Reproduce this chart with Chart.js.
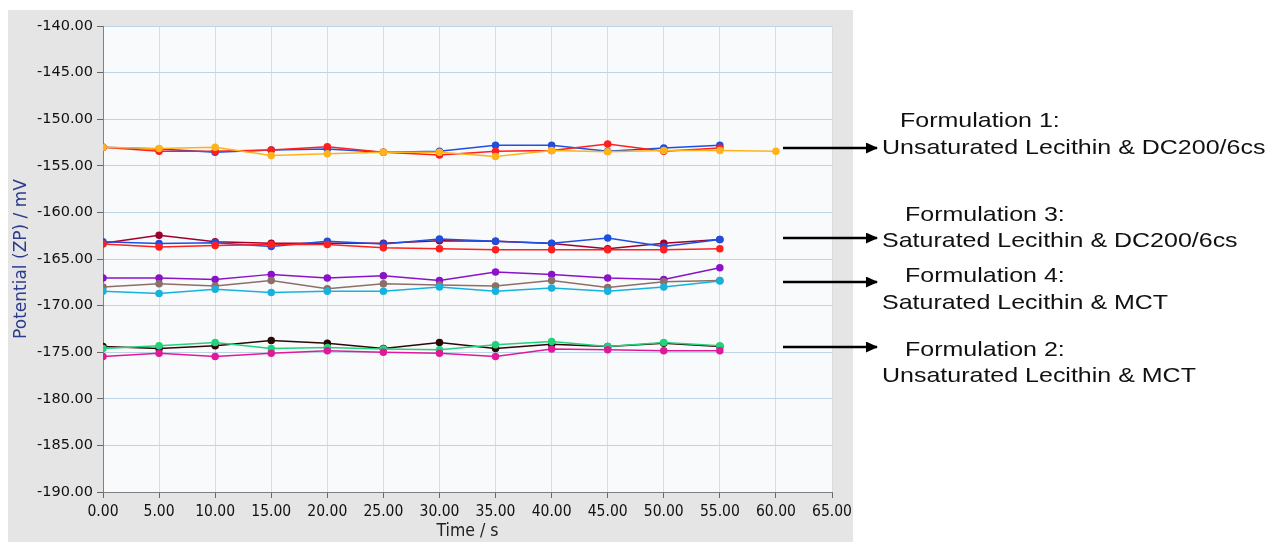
<!DOCTYPE html>
<html>
<head>
<meta charset="utf-8">
<script src="https://cdn.jsdelivr.net/npm/chart.js@4"></script>
<style>
  body { margin: 0; width: 1278px; height: 542px; background: #fff; position: relative; overflow: hidden; }
  #box { position: absolute; left: 8px; top: 10px; width: 845px; height: 532px; background: #e5e5e5; }
  #chart { position: absolute; left: 0; top: 0; }
  .note { position: absolute; font-family: "Liberation Sans", Arial, sans-serif; font-size: 21px; color: #111; white-space: nowrap; line-height: 1; transform: scaleX(1.19); transform-origin: left center; }
  #arrows { position: absolute; left: 0; top: 0; }
</style>
</head>
<body>
<div id="box"><canvas id="chart" width="880" height="532"></canvas></div>

<svg id="arrows" width="1278" height="542">
  <defs>
    <marker id="head" markerWidth="12" markerHeight="11" refX="11" refY="5.5" orient="auto" markerUnits="userSpaceOnUse">
      <path d="M0,0 L12,5.5 L0,11 z" fill="#000"/>
    </marker>
  </defs>
  <line x1="783" y1="148" x2="877" y2="148" stroke="#000" stroke-width="2.5" marker-end="url(#head)"/>
  <line x1="783" y1="238" x2="877" y2="238" stroke="#000" stroke-width="2.5" marker-end="url(#head)"/>
  <line x1="783" y1="282" x2="877" y2="282" stroke="#000" stroke-width="2.5" marker-end="url(#head)"/>
  <line x1="783" y1="347" x2="877" y2="347" stroke="#000" stroke-width="2.5" marker-end="url(#head)"/>
</svg>

<div class="note" style="left:900px; top:109px;">Formulation 1:</div>
<div class="note" style="left:882px; top:136px;">Unsaturated Lecithin &amp; DC200/6cs</div>
<div class="note" style="left:905px; top:203px;">Formulation 3:</div>
<div class="note" style="left:882px; top:229px;">Saturated Lecithin &amp; DC200/6cs</div>
<div class="note" style="left:905px; top:264px;">Formulation 4:</div>
<div class="note" style="left:882px; top:291px;">Saturated Lecithin &amp; MCT</div>
<div class="note" style="left:905px; top:338px;">Formulation 2:</div>
<div class="note" style="left:882px; top:364px;">Unsaturated Lecithin &amp; MCT</div>

<script>
// time axis, seconds
const time = [0, 5, 10, 15, 20, 25, 30, 35, 40, 45, 50, 55, 60];

// Formulation 1 (top group)
const f1Blue   = [-153.0, -153.2, -153.55, -153.3, -153.2, -153.55, -153.45, -152.8, -152.8, -153.45, -153.1, -152.8];
const f1Red    = [-153.0, -153.45, -153.45, -153.3, -152.95, -153.55, -153.85, -153.45, -153.35, -152.65, -153.45, -153.1];
const f1Orange = [-153.0, -153.15, -153.0, -153.9, -153.7, -153.55, -153.55, -154.0, -153.35, -153.5, -153.35, -153.35, -153.45];

// Formulation 3
const f3Blue    = [-163.15, -163.35, -163.25, -163.65, -163.1, -163.4, -162.85, -163.1, -163.3, -162.75, -163.65, -162.9];
const f3DarkRed = [-163.3, -162.45, -163.15, -163.3, -163.3, -163.3, -163.05, -163.1, -163.35, -163.9, -163.3, -162.9];
const f3Red     = [-163.4, -163.7, -163.55, -163.45, -163.45, -163.8, -163.9, -164.0, -164.0, -164.0, -164.0, -163.9];

// Formulation 4
const f4Purple = [-167.05, -167.05, -167.2, -166.65, -167.05, -166.8, -167.3, -166.4, -166.65, -167.05, -167.2, -165.95];
const f4Brown  = [-168.0, -167.65, -167.9, -167.3, -168.2, -167.65, -167.8, -167.9, -167.3, -168.05, -167.45, -167.3];
const f4Cyan   = [-168.45, -168.7, -168.25, -168.6, -168.45, -168.45, -168.0, -168.45, -168.1, -168.45, -168.0, -167.35];

// Formulation 2 (bottom group)
const f2Black   = [-174.4, -174.6, -174.3, -173.75, -174.05, -174.6, -173.95, -174.6, -174.15, -174.4, -174.05, -174.4];
const f2Green   = [-174.6, -174.3, -173.95, -174.6, -174.5, -174.65, -174.75, -174.2, -173.85, -174.4, -173.95, -174.3];
const f2Magenta = [-175.45, -175.1, -175.45, -175.1, -174.85, -175.0, -175.1, -175.45, -174.65, -174.75, -174.85, -174.85];

function pts(vals) {
    return vals.map((v, i) => ({ x: time[i], y: v }));
}

function series(vals, color) {
    return {
        data: pts(vals),
        borderColor: color,
        backgroundColor: color,
        pointBackgroundColor: color,
        pointBorderColor: color,
        borderWidth: 1.5,
        pointRadius: 3,
        tension: 0
    };
}

// plot area fill
const plotBg = {
    id: "plotBg",
    beforeDraw(chart) {
        const a = chart.chartArea;
        const ctx = chart.ctx;
        ctx.save();
        ctx.fillStyle = "#f9fafb";
        ctx.fillRect(a.left, a.top, a.right - a.left, a.bottom - a.top);
        ctx.restore();
    }
};

new Chart(document.getElementById("chart"), {
    type: "line",
    data: {
        datasets: [
            series(f1Orange, "#ffb31a"),
            series(f1Red, "#ff1f1f"),
            series(f1Blue, "#1f4fe0"),
            series(f3Red, "#ff2020"),
            series(f3Blue, "#1f4fe0"),
            series(f3DarkRed, "#a0002a"),
            series(f4Cyan, "#17b2dc"),
            series(f4Brown, "#8c7068"),
            series(f4Purple, "#8a12c8"),
            series(f2Magenta, "#e0199c"),
            series(f2Green, "#23d27a"),
            series(f2Black, "#2a0808")
        ]
    },
    options: {
        responsive: false,
        animation: false,
        layout: { padding: { top: 16, right: 56, left: 0, bottom: 0 } },
        plugins: { legend: { display: false }, tooltip: { enabled: false } },
        scales: {
            x: {
                type: "linear",
                min: 0,
                max: 65,
                ticks: {
                    stepSize: 5,
                    padding: 5,
                    color: "#111",
                    font: { family: "DejaVu Sans Condensed", size: 15.5 },
                    callback: v => v.toFixed(2)
                },
                grid: { color: "#dcdcdc", tickColor: "#666", tickLength: 6 },
                border: { color: "#808080" },
                title: {
                    display: true,
                    text: "Time / s",
                    color: "#222",
                    padding: { top: 0, bottom: 0 },
                    font: { family: "DejaVu Sans Condensed", size: 17.5 }
                },
                afterFit(scale) { scale.height = 50; }
            },
            y: {
                min: -190,
                max: -140,
                ticks: {
                    stepSize: 5,
                    padding: 4,
                    color: "#111",
                    font: { family: "DejaVu Sans", size: 14.5 },
                    callback: v => v.toFixed(2)
                },
                grid: { color: "#bdd3e6", tickColor: "#666", tickLength: 6 },
                border: { color: "#808080" },
                title: {
                    display: true,
                    text: "Potential (ZP) / mV",
                    color: "#2b3c8f",
                    padding: { top: 3, bottom: 0 },
                    font: { family: "DejaVu Sans", size: 17 }
                },
                afterFit(scale) { scale.width = 95; }
            }
        }
    },
    plugins: [plotBg]
});
</script>
</body>
</html>
